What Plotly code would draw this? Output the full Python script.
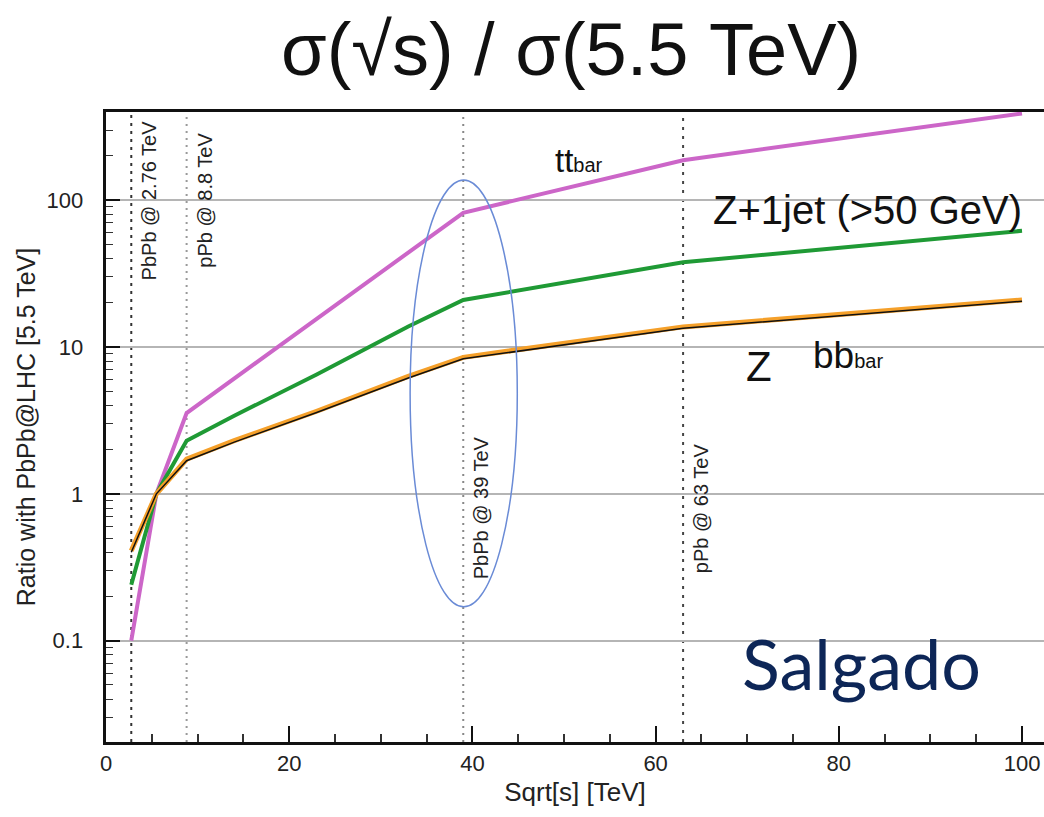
import plotly.graph_objects as go

# ---------------- data ----------------
sqrt_s = [2.76, 5.5, 8.8, 14, 23, 33, 39, 63, 100]
ttbar = [0.10, 1.0, 3.55, 6.1, 15.5, 44.0, 82.0, 187.0, 389.0]
z1jet = [0.24, 1.0, 2.3, 3.4, 6.5, 13.8, 20.9, 37.7, 61.8]
bbbar = [0.41, 1.0, 1.72, 2.3, 3.65, 6.3, 8.5, 13.7, 20.9]
z_only = [0.40, 1.0, 1.68, 2.25, 3.58, 6.15, 8.3, 13.4, 20.5]

facility_energies = [2.76, 8.8, 39, 63]
facility_labels = ["PbPb @ 2.76 TeV", "pPb @ 8.8 TeV", "PbPb @ 39 TeV", "pPb @ 63 TeV"]
facility_label_y = [2.0, 2.0, -0.097, -0.097]   # log10 of label centre
facility_dash = ["3px,5px", "2px,5px", "2px,5px", "3px,6px"]
facility_color = ["#333333", "#999999", "#888888", "#444444"]

y_ticktext_fmt = "~g"

ellipse_x = [33.2, 44.9]
ellipse_y = [0.17, 137]

FONT = "Liberation Sans, Arial, sans-serif"

fig = go.Figure()

fig.add_trace(go.Scatter(x=sqrt_s, y=ttbar, mode="lines",
                         line=dict(color="#cc66c8", width=4), name="ttbar"))
fig.add_trace(go.Scatter(x=sqrt_s, y=z1jet, mode="lines",
                         line=dict(color="#1f9a35", width=4), name="Z+1jet"))
fig.add_trace(go.Scatter(x=sqrt_s, y=bbbar, mode="lines",
                         line=dict(color="#f5a02a", width=5), name="bbbar"))
fig.add_trace(go.Scatter(x=sqrt_s, y=z_only, mode="lines",
                         line=dict(color="#111111", width=1.5), name="Z"))

# vertical facility lines
for e, d, c in zip(facility_energies, facility_dash, facility_color):
    fig.add_shape(type="line", xref="x", yref="paper", x0=e, x1=e, y0=0, y1=1,
                  line=dict(color=c, width=2, dash=d), layer="below")

for e, lab, ly in zip(facility_energies, facility_labels, facility_label_y):
    fig.add_annotation(x=e, y=ly, xref="x", yref="y", text=lab, textangle=-90,
                       showarrow=False, xanchor="left", yanchor="middle", xshift=5,
                       font=dict(family=FONT, size=20, color="#222222"))

# ellipse
fig.add_shape(type="circle", xref="x", yref="y",
              x0=ellipse_x[0], x1=ellipse_x[1], y0=ellipse_y[0], y1=ellipse_y[1],
              line=dict(color="#6a8bd6", width=1.5))

# curve labels
fig.add_annotation(x=48.8, y=2.272, xref="x", yref="y", showarrow=False,
                   xanchor="left", yanchor="middle",
                   text="tt<span style='font-size:20px'>bar</span>",
                   font=dict(family=FONT, size=33, color="#111111"))
fig.add_annotation(x=66.0, y=1.93, xref="x", yref="y", showarrow=False,
                   xanchor="left", yanchor="middle",
                   text="Z+1jet (>50 GeV)",
                   font=dict(family=FONT, size=40, color="#111111"))
fig.add_annotation(x=71.3, y=0.87, xref="x", yref="y", showarrow=False,
                   xanchor="center", yanchor="middle",
                   text="Z",
                   font=dict(family=FONT, size=42, color="#111111"))
fig.add_annotation(x=77.0, y=0.94, xref="x", yref="y", showarrow=False,
                   xanchor="left", yanchor="middle",
                   text="bb<span style='font-size:20px'>bar</span>",
                   font=dict(family=FONT, size=37, color="#111111"))
fig.add_annotation(x=0.935, y=0.125, xref="paper", yref="paper", showarrow=False,
                   xanchor="right", yanchor="middle",
                   text="Salgado",
                   font=dict(family="Lato, sans-serif", size=70, color="#0d2657"))

fig.update_layout(
    width=1044, height=817,
    margin=dict(l=106, r=0, t=112, b=75),
    paper_bgcolor="white", plot_bgcolor="white",
    showlegend=False,
    title=dict(text="σ(√s) / σ(5.5 TeV)", x=0.547, xanchor="center",
               y=0.94, yanchor="middle",
               font=dict(family=FONT, size=74, color="#111111")),
    font=dict(family=FONT, color="#222222"),
)

fig.update_xaxes(
    range=[0, 102.4], showline=True, linecolor="#111111", linewidth=3, mirror=True,
    showgrid=False, zeroline=False,
    tickmode="linear", tick0=0, dtick=20,
    ticks="inside", ticklen=16, tickwidth=1.8, tickcolor="#111111",
    minor=dict(ticks="inside", ticklen=8, tickwidth=1.5, tickcolor="#333333", dtick=5, showgrid=False),
    tickfont=dict(family=FONT, size=22, color="#222222"),
    title=dict(text="Sqrt[s] [TeV]", font=dict(family=FONT, size=26, color="#222222"), standoff=8),
)

fig.update_yaxes(
    type="log", range=[-1.69, 2.60], showline=True, linecolor="#111111", linewidth=3,
    showgrid=True, gridcolor="#b5b5b5", gridwidth=1.5, zeroline=False,
    tickmode="linear", tick0=0, dtick=1, tickformat=y_ticktext_fmt,
    ticksuffix="\u2002\u2009",
    ticks="inside", ticklen=14, tickwidth=1.8, tickcolor="#111111",
    minor=dict(ticks="inside", ticklen=7, tickwidth=1.2, tickcolor="#333333", dtick="D1", showgrid=False),
    tickfont=dict(family=FONT, size=22, color="#222222"),
    title=dict(text="Ratio with PbPb@LHC [5.5 TeV]", font=dict(family=FONT, size=25, color="#222222"), standoff=4),
)

fig.write_html("out.html")
